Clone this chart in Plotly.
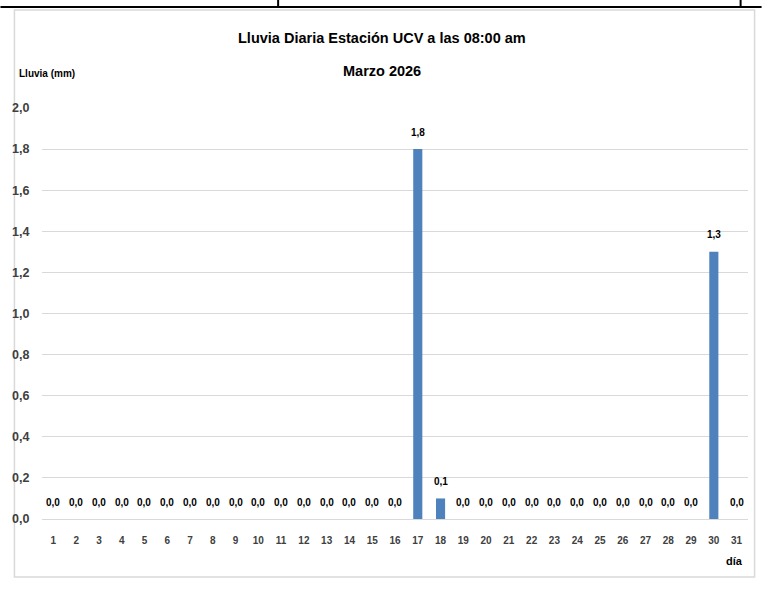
import plotly.graph_objects as go

days = list(range(1, 32))
rain_mm = [0.0, 0.0, 0.0, 0.0, 0.0, 0.0, 0.0, 0.0, 0.0, 0.0,
           0.0, 0.0, 0.0, 0.0, 0.0, 0.0, 1.8, 0.1, 0.0, 0.0,
           0.0, 0.0, 0.0, 0.0, 0.0, 0.0, 0.0, 0.0, 0.0, 1.3,
           0.0]
y_ticks = [0.0, 0.2, 0.4, 0.6, 0.8, 1.0, 1.2, 1.4, 1.6, 1.8, 2.0]

title_line1 = "Lluvia Diaria Estación UCV a las 08:00 am"
title_line2 = "Marzo 2026"
y_title = "Lluvia (mm)"
x_title = "día"

FONT = "Liberation Sans Narrow, Arial Narrow, Liberation Sans, Arial, sans-serif"
W, H = 762, 615
L, R, T, B = 41.6, 13.6, 108, 96
PW, PH = W - L - R, H - T - B

def px(x):
    return (x - L) / PW

def py(y):
    return (H - B - y) / PH

def fmt(v):
    return f"{v:.1f}".replace(".", ",")

fig = go.Figure()
fig.add_trace(go.Bar(
    x=days, y=rain_mm,
    marker=dict(color="#4F81BD", line=dict(width=0)),
    hoverinfo="x+y",
))

for d, v in zip(days, rain_mm):
    fig.add_annotation(
        x=d, y=v, xref="x", yref="y",
        text="<b>" + fmt(v) + "</b>",
        showarrow=False, yshift=17,
        font=dict(family=FONT, size=10, color="#000000"),
    )

fig.add_annotation(xref="paper", yref="paper", x=px(382), y=py(38),
                   text="<b>" + title_line1 + "</b>", showarrow=False,
                   xanchor="center", yanchor="middle",
                   font=dict(family=FONT, size=14.5, color="#000000"))
fig.add_annotation(xref="paper", yref="paper", x=px(382), y=py(71),
                   text="<b>" + title_line2 + "</b>", showarrow=False,
                   xanchor="center", yanchor="middle",
                   font=dict(family=FONT, size=14.5, color="#000000"))
fig.add_annotation(xref="paper", yref="paper", x=px(17), y=py(73),
                   text="<b>" + y_title + "</b>", showarrow=False,
                   xanchor="left", yanchor="middle",
                   font=dict(family=FONT, size=10, color="#000000"))
fig.add_annotation(xref="paper", yref="paper", x=px(735), y=py(561),
                   text="<b>" + x_title + "</b>", showarrow=False,
                   xanchor="center", yanchor="middle",
                   font=dict(family=FONT, size=11, color="#000000"))

# chart frame
fig.add_shape(type="rect", xref="paper", yref="paper",
              x0=px(14), x1=px(755), y0=py(577), y1=py(10),
              line=dict(color="#d9d9d9", width=1.5), layer="below")
# top table border lines
fig.add_shape(type="line", xref="paper", yref="paper",
              x0=px(0), x1=px(762), y0=py(7), y1=py(7),
              line=dict(color="#000000", width=2))
for xv in (278, 741):
    fig.add_shape(type="line", xref="paper", yref="paper",
                  x0=px(xv), x1=px(xv), y0=py(0), y1=py(7),
                  line=dict(color="#000000", width=2))

fig.update_layout(
    width=W, height=H,
    margin=dict(l=L, r=R, t=T, b=B, pad=0),
    paper_bgcolor="white", plot_bgcolor="white",
    bargap=0.6,
    showlegend=False,
    font=dict(family=FONT),
    xaxis=dict(
        range=[0.5, 31.5], tickmode="array", tickvals=days,
        ticktext=[f"<b>{d}</b>" for d in days],
        showgrid=False, zeroline=False, showline=False,
        ticks="outside", ticklen=12, tickcolor="rgba(0,0,0,0)",
        tickfont=dict(family=FONT, size=10, color="#404040"),
        fixedrange=True,
    ),
    yaxis=dict(
        range=[0, 2.0001], tickmode="array", tickvals=y_ticks,
        ticktext=["<b>" + fmt(v) + "</b>" for v in y_ticks],
        showgrid=True, gridcolor="#d9d9d9", gridwidth=1,
        zeroline=True, zerolinecolor="#d9d9d9", zerolinewidth=1,
        showline=False,
        ticks="outside", ticklen=9, tickcolor="rgba(0,0,0,0)",
        tickfont=dict(family=FONT, size=12.5, color="#404040"),
        fixedrange=True,
    ),
)

fig.write_html(
    "out.html",
    config={"displayModeBar": False},
    post_script="document.body.style.margin='0';document.body.style.overflow='hidden';",
)
